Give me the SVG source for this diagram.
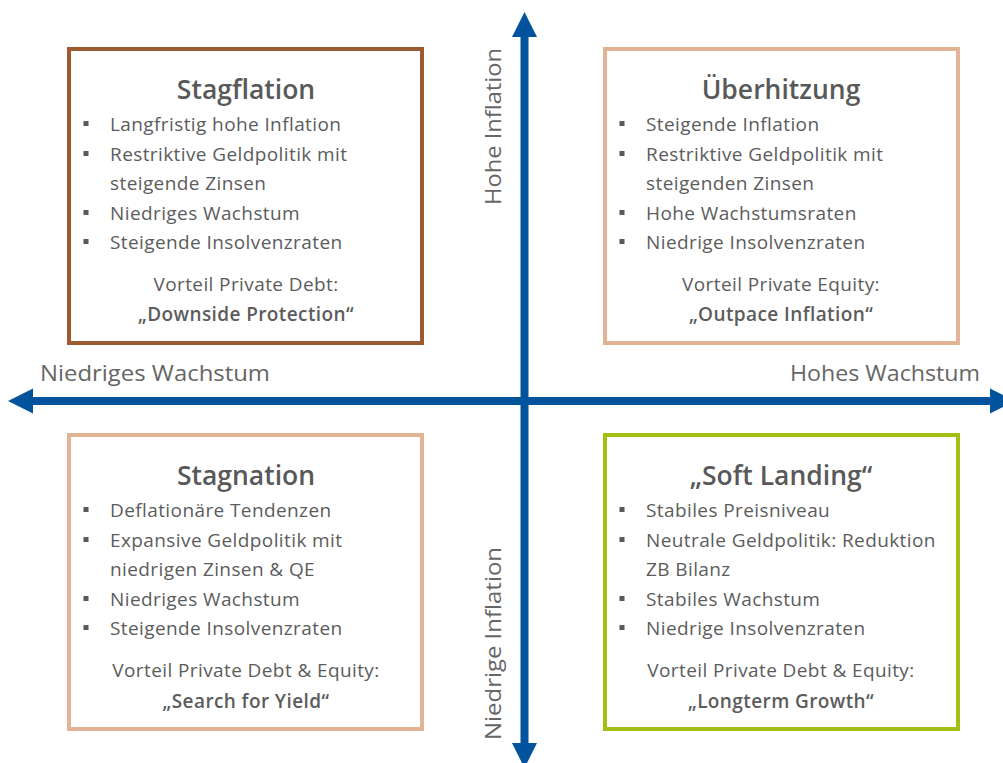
<svg xmlns="http://www.w3.org/2000/svg" width="1003" height="763" viewBox="0 0 1003 763">
  <style>
    .box { fill: #ffffff; stroke-width: 4; }
    .title { font-family: "Open Sans", "Liberation Sans", sans-serif; font-size: 26.5px; font-weight: 600; fill: #595959; text-anchor: middle; }
    .item { font-family: "Open Sans", "Liberation Sans", sans-serif; font-size: 19px; letter-spacing: 0.4px; fill: #5c5c5c; }
    .note { font-family: "Open Sans", "Liberation Sans", sans-serif; font-size: 19px; letter-spacing: 0.4px; fill: #5c5c5c; text-anchor: middle; }
    .em { font-weight: 600; }
    .axis-label { font-family: "Open Sans", "Liberation Sans", sans-serif; font-size: 22px; fill: #666666; }
    .axis { stroke: #00539C; stroke-width: 8; fill: none; }
    .head { fill: #00539C; }
    .dot { fill: #595959; }
  </style>
  <rect width="1003" height="763" fill="#ffffff"/>

  <!-- axes -->
  <g id="connectors">
    <line class="axis" x1="524.5" y1="35" x2="524.5" y2="745"/>
    <polygon class="head" points="524.5,12 512,37 537,37"/>
    <polygon class="head" points="524.5,768 512,743 537,743"/>
    <line class="axis" x1="31" y1="401" x2="992" y2="401"/>
    <polygon class="head" points="8,401 33,388.5 33,413.5"/>
    <polygon class="head" points="1015,401 990,388.5 990,413.5"/>
  </g>

  <g id="axis-labels">
    <text class="axis-label" x="-205" y="501" transform="rotate(-90)" textLength="157" lengthAdjust="spacingAndGlyphs">Hohe Inflation</text>
    <text class="axis-label" x="-740" y="501" transform="rotate(-90)" textLength="193" lengthAdjust="spacingAndGlyphs">Niedrige Inflation</text>
    <text class="axis-label" x="40" y="381" textLength="230" lengthAdjust="spacingAndGlyphs">Niedriges Wachstum</text>
    <text class="axis-label" x="790" y="381" textLength="190" lengthAdjust="spacingAndGlyphs">Hohes Wachstum</text>
  </g>

  <!-- top left -->
  <g id="stagflation">
    <rect class="box" x="69" y="49" width="353" height="294" stroke="#9C5A2E"/>
    <text class="title" x="246" y="99">Stagflation</text>
    <rect class="dot" x="83.5" y="121" width="5" height="5"/>
    <text class="item" x="110" y="131">Langfristig hohe Inflation</text>
    <rect class="dot" x="83.5" y="151" width="5" height="5"/>
    <text class="item" x="110" y="161">Restriktive Geldpolitik mit</text>
    <text class="item" x="110" y="190">steigende Zinsen</text>
    <rect class="dot" x="83.5" y="210" width="5" height="5"/>
    <text class="item" x="110" y="220">Niedriges Wachstum</text>
    <rect class="dot" x="83.5" y="239" width="5" height="5"/>
    <text class="item" x="110" y="249">Steigende Insolvenzraten</text>
    <text class="note" x="246" y="291">Vorteil Private Debt:</text>
    <text class="note em" x="246" y="321">„Downside Protection“</text>
  </g>

  <!-- top right -->
  <g id="ueberhitzung">
    <rect class="box" x="605" y="49" width="353" height="294" stroke="#E2B394"/>
    <text class="title" x="781" y="99">Überhitzung</text>
    <rect class="dot" x="619.5" y="121" width="5" height="5"/>
    <text class="item" x="646" y="131">Steigende Inflation</text>
    <rect class="dot" x="619.5" y="151" width="5" height="5"/>
    <text class="item" x="646" y="161">Restriktive Geldpolitik mit</text>
    <text class="item" x="646" y="190">steigenden Zinsen</text>
    <rect class="dot" x="619.5" y="210" width="5" height="5"/>
    <text class="item" x="646" y="220">Hohe Wachstumsraten</text>
    <rect class="dot" x="619.5" y="239" width="5" height="5"/>
    <text class="item" x="646" y="249">Niedrige Insolvenzraten</text>
    <text class="note" x="781" y="291">Vorteil Private Equity:</text>
    <text class="note em" x="781" y="321">„Outpace Inflation“</text>
  </g>

  <!-- bottom left -->
  <g id="stagnation">
    <rect class="box" x="69" y="435" width="353" height="294" stroke="#E2B394"/>
    <text class="title" x="246" y="485">Stagnation</text>
    <rect class="dot" x="83.5" y="507" width="5" height="5"/>
    <text class="item" x="110" y="517">Deflationäre Tendenzen</text>
    <rect class="dot" x="83.5" y="537" width="5" height="5"/>
    <text class="item" x="110" y="547">Expansive Geldpolitik mit</text>
    <text class="item" x="110" y="576">niedrigen Zinsen &amp; QE</text>
    <rect class="dot" x="83.5" y="596" width="5" height="5"/>
    <text class="item" x="110" y="606">Niedriges Wachstum</text>
    <rect class="dot" x="83.5" y="625" width="5" height="5"/>
    <text class="item" x="110" y="635">Steigende Insolvenzraten</text>
    <text class="note" x="246" y="677">Vorteil Private Debt &amp; Equity:</text>
    <text class="note em" x="246" y="708">„Search for Yield“</text>
  </g>

  <!-- bottom right -->
  <g id="soft-landing">
    <rect class="box" x="605" y="435" width="353" height="294" stroke="#A2BE12"/>
    <text class="title" x="781" y="485">„Soft Landing“</text>
    <rect class="dot" x="619.5" y="507" width="5" height="5"/>
    <text class="item" x="646" y="517">Stabiles Preisniveau</text>
    <rect class="dot" x="619.5" y="537" width="5" height="5"/>
    <text class="item" x="646" y="547">Neutrale Geldpolitik: Reduktion</text>
    <text class="item" x="646" y="576">ZB Bilanz</text>
    <rect class="dot" x="619.5" y="596" width="5" height="5"/>
    <text class="item" x="646" y="606">Stabiles Wachstum</text>
    <rect class="dot" x="619.5" y="625" width="5" height="5"/>
    <text class="item" x="646" y="635">Niedrige Insolvenzraten</text>
    <text class="note" x="781" y="677">Vorteil Private Debt &amp; Equity:</text>
    <text class="note em" x="781" y="708">„Longterm Growth“</text>
  </g>
</svg>
